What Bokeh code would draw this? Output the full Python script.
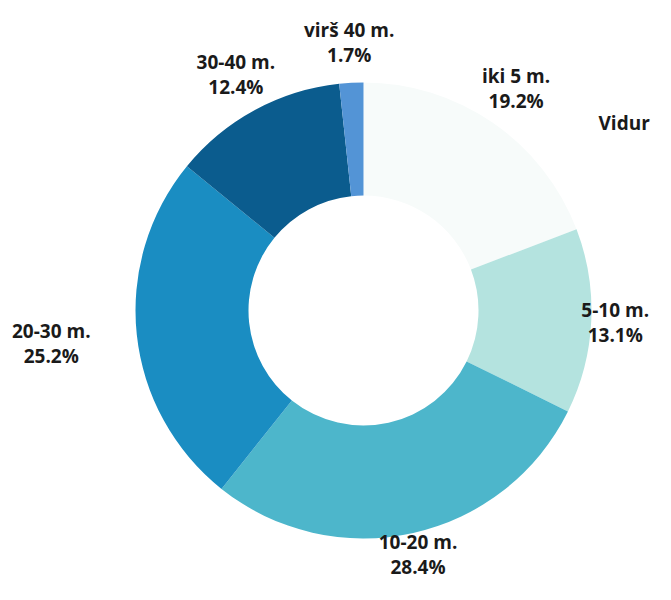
import numpy as np
from bokeh.plotting import figure
from bokeh.models import ColumnDataSource
from bokeh.core.properties import value
from bokeh.embed import file_html
from bokeh.resources import INLINE

# ---- data ----
categories = ["iki 5 m.", "5-10 m.", "10-20 m.", "20-30 m.", "30-40 m.", "virš 40 m."]
shares = [19.2, 13.1, 28.4, 25.2, 12.4, 1.7]
colors = ["#f7fbfa", "#b4e3df", "#4db6cb", "#1a8dc2", "#0b5c8e", "#5394d6"]
extra_label = "Vidur"

# ---- layout (pixels) ----
W, H = 655, 584
cx, cy = 363, H - 310
r_in, r_out = 115, 228
label_r = [269, 252, 250, 314, 268, 268]
line_gap = 25

vals = np.array(shares)
frac = vals / vals.sum()
cum_end = np.cumsum(frac)
cum_start = cum_end - frac
start_ang = np.pi / 2 - 2 * np.pi * cum_start
end_ang = np.pi / 2 - 2 * np.pi * cum_end
mid_ang = (start_ang + end_ang) / 2

src = ColumnDataSource(dict(
    cat=categories, start=start_ang, end=end_ang, color=colors,
    x=[cx] * len(categories), y=[cy] * len(categories),
))

p = figure(width=W, height=H, x_range=(0, W), y_range=(0, H),
           output_backend="svg", toolbar_location=None,
           min_border=0, outline_line_color=None, background_fill_color="white")
p.axis.visible = False
p.grid.visible = False

p.annular_wedge(x="x", y="y", inner_radius=r_in, outer_radius=r_out,
                start_angle="start", end_angle="end", direction="clock",
                fill_color="color", line_color=None, source=src)

lx = cx + np.array(label_r) * np.cos(mid_ang)
ly = cy + np.array(label_r) * np.sin(mid_ang)
pct = [f"{v:.1f}%" for v in shares]

lab = ColumnDataSource(dict(x=lx, y1=ly + line_gap / 2, y2=ly - line_gap / 2,
                            name=categories, pct=pct))
common = dict(text_font=value("Open Sans"), text_font_style="bold",
              text_font_size="19px", text_color="#1a1a1a",
              text_align="center", text_baseline="middle", source=lab)
p.text(x="x", y="y1", text="name", **common)
p.text(x="x", y="y2", text="pct", **common)

# side label at the right edge
ex = ColumnDataSource(dict(x=[598], y=[H - 122], t=[extra_label]))
p.text(x="x", y="y", text="t", source=ex, text_font=value("Open Sans"),
       text_font_style="bold", text_font_size="19px", text_color="#1a1a1a",
       text_align="left", text_baseline="middle")

open("out.html", "w").write(file_html(p, INLINE))
